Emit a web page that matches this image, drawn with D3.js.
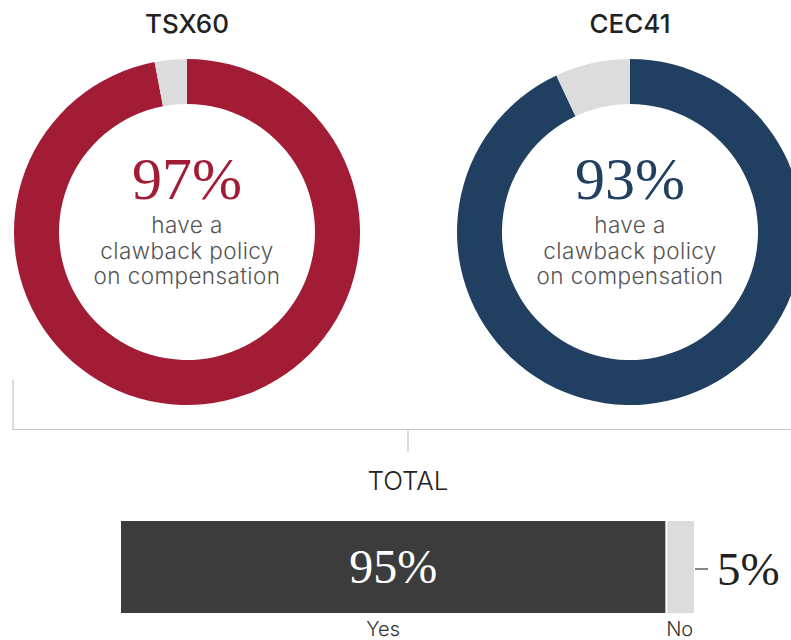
<!DOCTYPE html>
<html>
<head>
<meta charset="utf-8">
<script src="https://cdn.jsdelivr.net/npm/d3@7"></script>
<style>
  body { margin: 0; background: #fff; }
  svg { display: block; }
</style>
</head>
<body>
<div id="chart"></div>
<script>
var width = 791;
var height = 640;

// data
var groups = ["TSX60", "CEC41"];
var yesShare = [97, 93];
var groupColors = ["#a11c34", "#213f60"];
var subLines = ["have a", "clawback policy", "on compensation"];
var totalCategories = ["Yes", "No"];
var totalValues = [95, 5];

var sans = "Inter, Lato, 'Noto Sans', sans-serif";
var serif = "'Liberation Serif', 'DejaVu Serif', serif";

var svg = d3.select("#chart")
    .append("svg")
    .attr("width", width)
    .attr("height", height);

// donut layout
var centers = d3.scalePoint()
    .domain(groups)
    .range([187, 630]);

var outerR = 173, innerR = 128, cy = 232;

var pie = d3.pie().sort(null).value(function(d) { return d; });
var arc = d3.arc().innerRadius(innerR).outerRadius(outerR);

var donut = svg.selectAll(".donut")
    .data(groups)
    .enter().append("g")
      .attr("class", "donut")
      .attr("transform", function(d) { return "translate(" + centers(d) + "," + cy + ")"; });

donut.selectAll("path")
    .data(function(d, i) {
      return pie([yesShare[i], 100 - yesShare[i]]).map(function(p, j) {
        p.color = j == 0 ? groupColors[i] : "#dcdcdc";
        return p;
      });
    })
    .enter().append("path")
      .attr("d", arc)
      .attr("fill", function(d) { return d.color; });

donut.append("text")
    .attr("y", -199)
    .attr("text-anchor", "middle")
    .attr("font-family", sans)
    .attr("font-weight", 500)
    .attr("font-size", 26)
    .attr("fill", "#222")
    .text(function(d) { return d; });

donut.append("text")
    .attr("y", -33)
    .attr("text-anchor", "middle")
    .attr("font-family", serif)
    .attr("font-size", 60)
    .attr("fill", function(d, i) { return groupColors[i]; })
    .text(function(d, i) { return yesShare[i] + "%"; });

donut.append("text")
    .attr("text-anchor", "middle")
    .attr("font-family", sans)
    .attr("font-weight", 300)
    .attr("font-size", 22.5)
    .attr("letter-spacing", 0.4)
    .attr("fill", "#555")
  .selectAll("tspan")
  .data(subLines)
  .enter().append("tspan")
    .attr("x", 0)
    .attr("y", function(d, i) { return 1 + i * 25.5; })
    .text(function(d) { return d; });

// bracket
var bracket = svg.append("g")
    .attr("stroke", "#c4c4c4")
    .attr("stroke-width", 1.2)
    .attr("fill", "none");
bracket.append("path").attr("d", "M13,380V429.5H791");
bracket.append("path").attr("d", "M408,429.5V452");

svg.append("text")
    .attr("x", 408)
    .attr("y", 490)
    .attr("text-anchor", "middle")
    .attr("font-family", sans)
    .attr("font-weight", 300)
    .attr("font-size", 26)
    .attr("fill", "#222")
    .text("TOTAL");

// total bar
var x = d3.scaleLinear().domain([0, 100]).range([121, 694]);
var stack = d3.cumsum(totalValues);
var barY = 521, barH = 92;

var bar = svg.selectAll(".seg")
    .data(totalValues)
    .enter().append("g")
      .attr("class", "seg");

bar.append("rect")
    .attr("x", function(d, i) { return x(stack[i] - d) + (i > 0 ? 2 : 0); })
    .attr("y", barY)
    .attr("width", function(d, i) { return x(stack[i]) - x(stack[i] - d) - (i > 0 ? 2 : 0); })
    .attr("height", barH)
    .attr("fill", function(d, i) { return i == 0 ? "#3c3c3c" : "#dcdcdc"; });

bar.append("text")
    .attr("x", function(d, i) { return (x(stack[i] - d) + x(stack[i])) / 2 - (i == 0 ? 10 : 0); })
    .attr("y", 636)
    .attr("text-anchor", "middle")
    .attr("font-family", sans)
    .attr("font-weight", 300)
    .attr("font-size", 20)
    .attr("fill", "#333")
    .text(function(d, i) { return totalCategories[i]; });

svg.append("text")
    .attr("x", x(totalValues[0] / 2))
    .attr("y", 583)
    .attr("text-anchor", "middle")
    .attr("font-family", serif)
    .attr("font-size", 48)
    .attr("fill", "#fff")
    .text(totalValues[0] + "%");

svg.append("line")
    .attr("x1", x(100) + 1).attr("x2", x(100) + 14)
    .attr("y1", 569).attr("y2", 569)
    .attr("stroke", "#333").attr("stroke-width", 1.2);

svg.append("text")
    .attr("x", x(100) + 23)
    .attr("y", 585)
    .attr("font-family", serif)
    .attr("font-size", 47)
    .attr("fill", "#222")
    .text(totalValues[1] + "%");
</script>
</body>
</html>
